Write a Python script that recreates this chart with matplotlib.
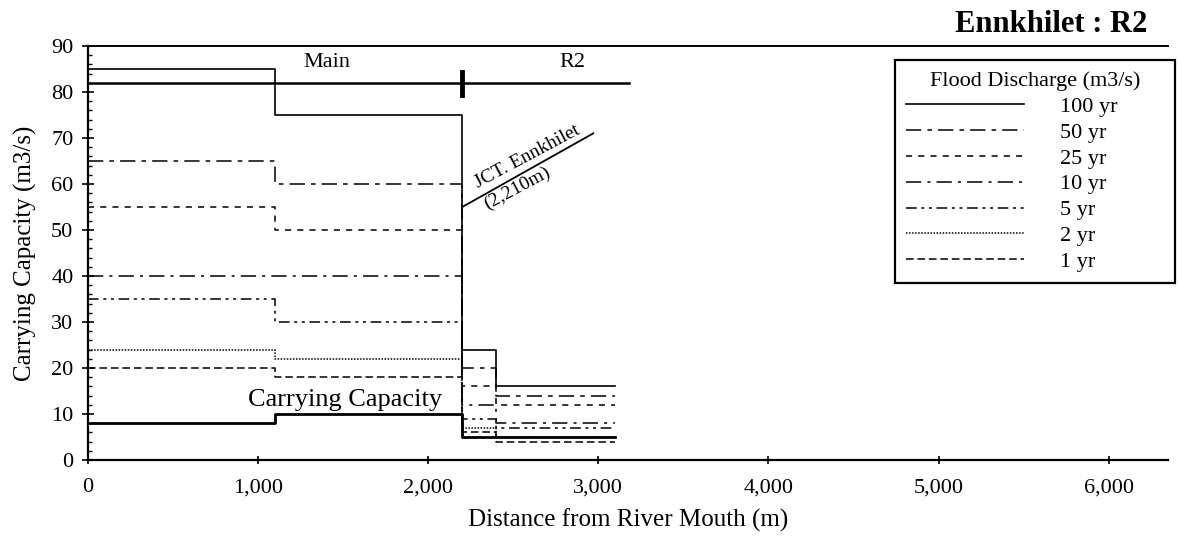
import matplotlib
matplotlib.use("Agg")
import matplotlib.pyplot as plt
from matplotlib.ticker import MultipleLocator, FuncFormatter

plt.rcParams['font.family'] = ['Liberation Serif', 'DejaVu Serif']

# ---- data ----
x_edges = [0, 1100, 2200, 2400, 3100]
q100 = [85, 75, 24, 16]
q50 = [65, 60, 20, 14]
q25 = [55, 50, 16, 12]
q10 = [40, 40, 12, 8]
q5 = [35, 30, 9, 7]
q2 = [24, 22, 7, 5]
q1 = [20, 18, 6, 4]
capacity = [8, 10, 5, 5]
labels = ['100 yr', '50 yr', '25 yr', '10 yr', '5 yr', '2 yr', '1 yr']
series = [q100, q50, q25, q10, q5, q2, q1]
jct_x = 2200
jct_line_x = [2200, 2970]
jct_line_y = [55, 71]
ref_line_x = [0, 3180]
ref_line_y = 82

styles = ['-', (0, (10, 4, 3, 4)), (0, (4, 4)), (0, (10, 4, 2, 4)),
          (0, (7, 3, 2, 3, 2, 3)), (0, (1, 1)), (0, (5, 2.5))]

fig = plt.figure(figsize=(11.78, 5.46), dpi=100)
ax = fig.add_axes([0.0747, 0.1575, 0.917, 0.7583])

handles = []
for vals, lab, ls in zip(series, labels, styles):
    h, = ax.plot(x_edges, vals + [vals[-1]], drawstyle='steps-post',
                 color='black', lw=1.2 if ls == '-' else 1.1, linestyle=ls,
                 label=lab)
    handles.append(h)

ax.plot(x_edges, capacity + [capacity[-1]], drawstyle='steps-post',
        color='black', lw=2.0)

# reference line with junction mark
ax.plot(ref_line_x, [ref_line_y, ref_line_y], color='black', lw=1.8)
ax.plot([jct_x, jct_x], [79.3, 84.3], color='black', lw=3.5)
ax.text(1406, 86.3, 'Main', ha='center', va='center', fontsize=16)
ax.text(2847, 86.3, 'R2', ha='center', va='center', fontsize=16)

# junction annotation
ax.plot(jct_line_x, jct_line_y, color='black', lw=1.3)
ax.text(2582, 65.9, 'JCT. Ennkhilet', rotation=28, ha='center', va='center',
        fontsize=14, rotation_mode='anchor')
ax.text(2524, 59.1, '(2,210m)', rotation=28, ha='center', va='center',
        fontsize=14, rotation_mode='anchor')

ax.text(1512, 11.8, 'Carrying Capacity', ha='center', va='baseline', fontsize=19)

ax.set_xlim(0, 6350)
ax.set_ylim(0, 90)
ax.yaxis.set_major_locator(MultipleLocator(10))
ax.yaxis.set_minor_locator(MultipleLocator(2))
ax.xaxis.set_major_locator(MultipleLocator(1000))
ax.xaxis.set_major_formatter(FuncFormatter(lambda v, p: f'{int(v):,}'))

ax.spines['right'].set_visible(False)
for s in ['left', 'bottom']:
    ax.spines[s].set_linewidth(1.6)
ax.spines['top'].set_linewidth(1.4)

ax.tick_params(axis='y', which='major', direction='inout', length=9, width=1.2,
               labelsize=16, pad=6)
ax.tick_params(axis='y', which='minor', direction='in', length=3, width=1)
ax.tick_params(axis='x', which='major', direction='inout', length=6, width=1.2,
               labelsize=16, pad=10)

ax.set_xlabel('Distance from River Mouth (m)', fontsize=18, labelpad=8)
ax.set_ylabel('Carrying Capacity (m3/s)', fontsize=18, labelpad=10)

fig.text(0.974, 0.956, 'Ennkhilet : R2', ha='right', va='center',
         fontsize=22, fontweight='bold')

leg = ax.legend(handles=handles, labels=labels, title='Flood Discharge (m3/s)',
                loc='upper left', bbox_to_anchor=(0.760, 0.478, 0.2375, 0.412),
                bbox_transform=fig.transFigure, borderaxespad=0, mode='expand',
                fontsize=16, title_fontsize=16, handlelength=5.3,
                handletextpad=1.6, labelspacing=0.24, borderpad=0.5,
                fancybox=False, framealpha=1, edgecolor='black')
leg.get_frame().set_linewidth(1.6)

fig.savefig('out.png', dpi=100)
